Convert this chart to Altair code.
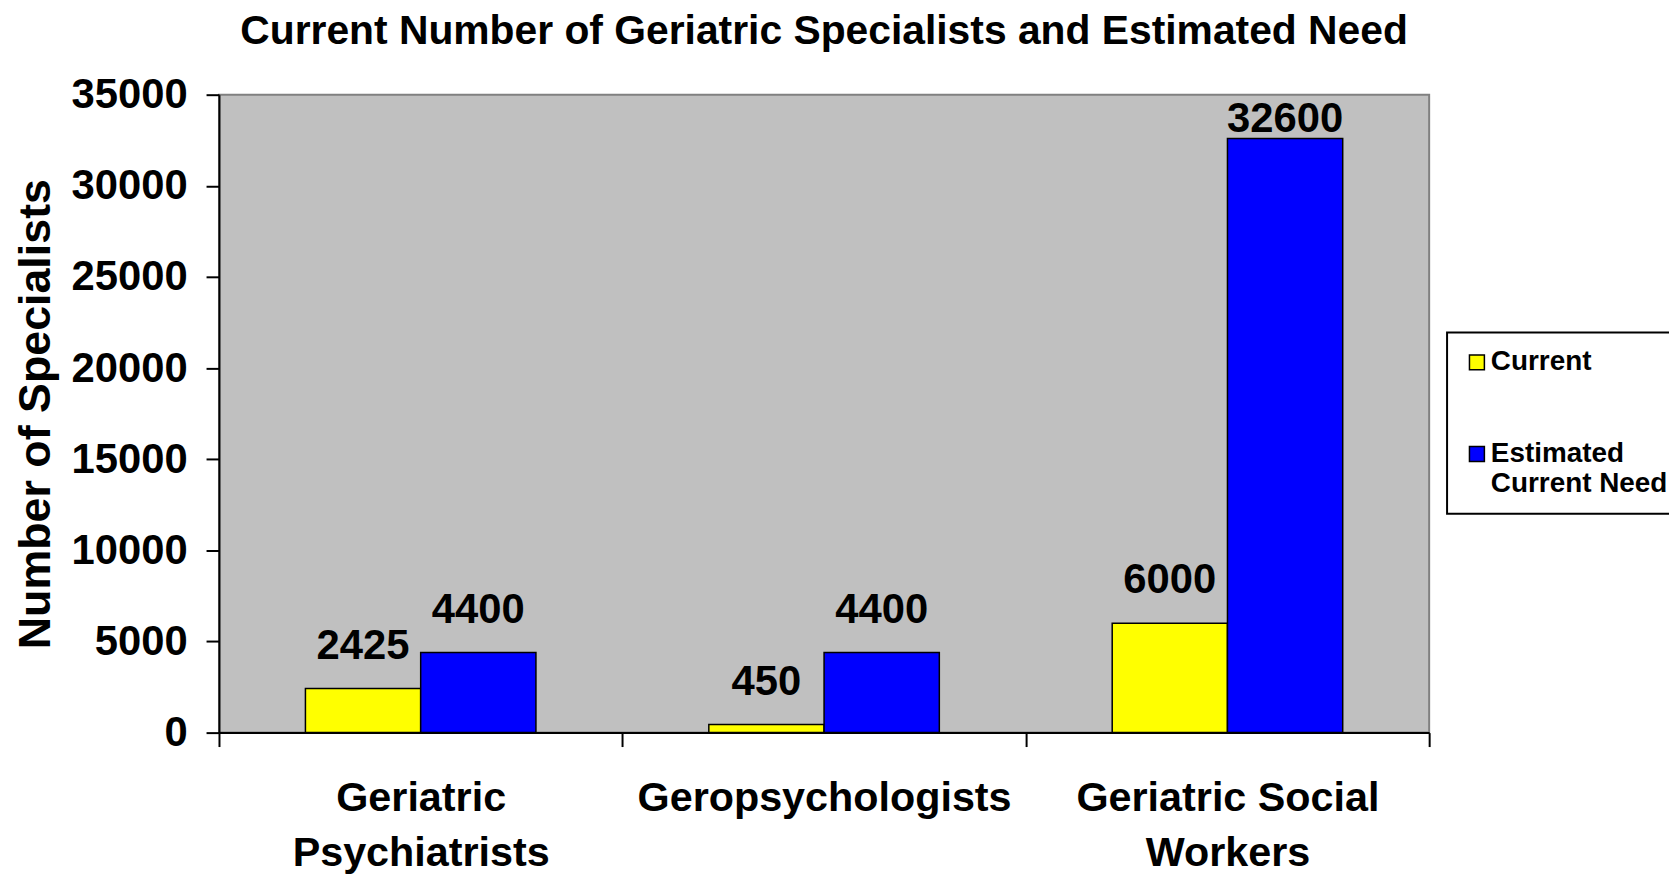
import altair as alt
import pandas as pd

# ---- data ----
categories = ["Geriatric Psychiatrists", "Geropsychologists", "Geriatric Social Workers"]
series = ["Current", "Estimated Current Need"]
current_values = [2425, 450, 6000]
needed_values = [4400, 4400, 32600]
y_tick_values = [0, 5000, 10000, 15000, 20000, 25000, 30000, 35000]
series_colors = ["#FFFF00", "#0000FF"]

rows = []
for cat, cur, need in zip(categories, current_values, needed_values):
    rows.append({"category": cat, "series": series[0], "value": cur})
    rows.append({"category": cat, "series": series[1], "value": need})
df = pd.DataFrame(rows)

FONT = "Liberation Sans"

x_enc = alt.X(
    "category:N",
    sort=categories,
    title=None,
    scale=alt.Scale(paddingInner=0, paddingOuter=0),
    axis=alt.Axis(
        labelAngle=0,
        labelFont=FONT,
        labelFontSize=41.5,
        labelFontWeight="bold",
        labelColor="black",
        labelExpr="datum.label == 'Geriatric Psychiatrists' ? ['Geriatric', 'Psychiatrists'] : "
                  "datum.label == 'Geriatric Social Workers' ? ['Geriatric Social', 'Workers'] : datum.label",
        labelLineHeight=56,
        labelPadding=31,
        labelLimit=0,
        labelOverlap=False,
        tickBand="extent",
        tickSize=14,
        tickColor="black",
        tickWidth=2,
        domainColor="black",
        domainWidth=2,
    ),
)
xoff_enc = alt.XOffset("series:N", sort=series,
                       scale=alt.Scale(paddingInner=0, paddingOuter=0.75))
y_enc = alt.Y(
    "value:Q",
    scale=alt.Scale(domain=[0, 35000], nice=False),
    axis=alt.Axis(
        values=y_tick_values,
        format="d",
        grid=False,
        title="Number of Specialists",
        titleFont=FONT,
        titleFontSize=45,
        titleFontWeight="bold",
        titleColor="black",
        titlePadding=13,
        labelFont=FONT,
        labelFontSize=42,
        labelFontWeight="bold",
        labelColor="black",
        labelPadding=19,
        tickSize=13,
        tickColor="black",
        tickWidth=2,
        domainColor="black",
        domainWidth=2,
    ),
)

bars = alt.Chart(df).mark_bar(stroke="black", strokeWidth=1.5).encode(
    x=x_enc,
    xOffset=xoff_enc,
    y=y_enc,
    color=alt.Color(
        "series:N",
        sort=series,
        scale=alt.Scale(domain=series, range=series_colors),
        legend=alt.Legend(
            title=None,
            orient="none",
            legendX=1234,
            legendY=239,
            direction="vertical",
            symbolType="square",
            symbolSize=225,
            symbolStrokeColor="black",
            symbolStrokeWidth=1.5,
            labelFont=FONT,
            labelFontSize=28,
            labelFontWeight="bold",
            labelColor="black",
            labelLimit=0,
            labelOffset=0,
            labelExpr="datum.label == 'Estimated Current Need' ? ['Estimated', 'Current Need'] : datum.label",
            padding=16,
            rowPadding=64,
            strokeColor="black",
            fillColor="white",
        ),
    ),
)

labels = alt.Chart(df).mark_text(
    font=FONT,
    fontSize=42,
    fontWeight="bold",
    color="black",
    baseline="alphabetic",
    dy=alt.expr("max(-30, 37 - scale('y', datum.value))"),
).encode(
    x=alt.X("category:N", sort=categories),
    xOffset=alt.XOffset("series:N", sort=series),
    y=alt.Y("value:Q"),
    text=alt.Text("value:Q", format="d"),
)

chart = (
    alt.layer(bars, labels)
    .properties(
        width=1216,
        height=641,
        title=alt.TitleParams(
            "Current Number of Geriatric Specialists and Estimated Need",
            font=FONT,
            fontSize=41,
            fontWeight="bold",
            color="black",
            anchor="middle",
            offset=21,
        ),
        autosize=alt.AutoSizeParams(type="none"),
        padding={"left": 212, "top": 85, "right": 241, "bottom": 150},
    )
    .configure_view(fill="#C0C0C0", stroke="#808080", strokeWidth=2)
    .configure_legend(strokeWidth=2)
)

chart.save("out.html", embed_options={"renderer": "svg", "actions": False})
